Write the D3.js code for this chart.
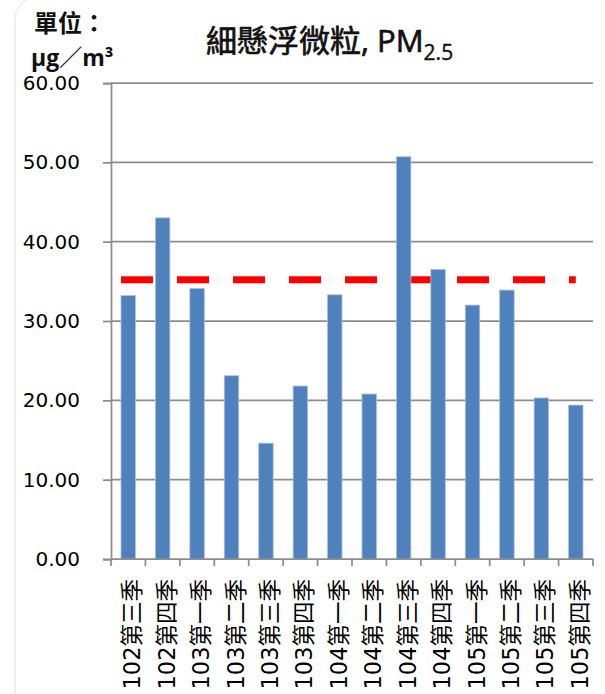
<!DOCTYPE html>
<html>
<head>
<meta charset="utf-8">
<script src="https://cdn.jsdelivr.net/npm/d3@7"></script>
<style>
  html, body { margin: 0; padding: 0; background: #ffffff; }
  svg { display: block; }
</style>
</head>
<body>
<svg id="chart" width="605" height="694"></svg>
<script>
// ---- data ----
const categories = [
  "102第三季", "102第四季", "103第一季", "103第二季", "103第三季", "103第四季",
  "104第一季", "104第二季", "104第三季", "104第四季",
  "105第一季", "105第二季", "105第三季", "105第四季"
];
const pm25Values = [33.2, 43.0, 34.1, 23.1, 14.6, 21.8, 33.3, 20.8, 50.7, 36.5, 32.0, 33.9, 20.3, 19.4];
const standardValue = 35.2;
const yTicks = [0, 10, 20, 30, 40, 50, 60];
const titleMain = "細懸浮微粒, PM";
const titleSub = "2.5";
const unitLine1 = "單位：";
const unitLine2 = "μg／m³";

// ---- layout ----
const svg = d3.select("#chart");
const plot = { left: 111, right: 593, top: 83, bottom: 559 };
const latinFont = "'DejaVu Sans', 'Noto Sans CJK TC', sans-serif";
const cjkFont = "'Open Sans', 'Noto Sans CJK TC', sans-serif";
const gridColor = "#8c8c8c";

const x = d3.scaleBand()
  .domain(categories)
  .range([plot.left, plot.right])
  .paddingInner(0.58)
  .paddingOuter(0.29);

const y = d3.scaleLinear()
  .domain([0, 60])
  .range([plot.bottom, plot.top]);

// frame (faint rounded border on the left)
svg.append("rect")
  .attr("x", 15).attr("y", -4)
  .attr("width", 640).attr("height", 760)
  .attr("rx", 24).attr("ry", 24)
  .attr("fill", "none")
  .attr("stroke", "#ececec")
  .attr("stroke-width", 1.5);

// gridlines
svg.append("g").selectAll("line")
  .data(yTicks.filter(d => d !== 0))
  .join("line")
  .attr("x1", plot.left).attr("x2", plot.right)
  .attr("y1", d => y(d)).attr("y2", d => y(d))
  .attr("stroke", gridColor)
  .attr("stroke-width", 1.75);

// y axis
const yAxis = d3.axisLeft(y)
  .tickValues(yTicks)
  .tickFormat(d3.format(".2f"))
  .tickSize(8)
  .tickPadding(23);
const gy = svg.append("g")
  .attr("transform", `translate(${plot.left},0)`)
  .call(yAxis);
gy.select(".domain").attr("stroke", gridColor).attr("stroke-width", 1.75);
gy.selectAll(".tick line").attr("stroke", gridColor).attr("stroke-width", 1.75);
gy.selectAll(".tick text")
  .attr("fill", "#000")
  .style("font-family", latinFont)
  .style("font-size", "20px");

// reference (standard) dashed line, behind bars
const lineStart = x(categories[0]);
const lineEnd = x(categories[categories.length - 1]) + x.bandwidth() / 2;
svg.append("line")
  .attr("x1", lineStart).attr("x2", lineEnd)
  .attr("y1", y(standardValue)).attr("y2", y(standardValue))
  .attr("stroke", "#ff0000")
  .attr("stroke-width", 7)
  .attr("stroke-dasharray", "32,24");

// bars
svg.append("g").selectAll("rect")
  .data(categories.map((c, i) => ({ c, v: pm25Values[i] })))
  .join("rect")
  .attr("x", d => x(d.c))
  .attr("y", d => y(d.v))
  .attr("width", x.bandwidth())
  .attr("height", d => y(0) - y(d.v))
  .attr("fill", "#4f81bd")
  .attr("stroke", "#a9c0df")
  .attr("stroke-width", 0.8);

// x axis line + ticks at category boundaries
const gx = svg.append("g");
gx.append("line")
  .attr("x1", plot.left).attr("x2", plot.right)
  .attr("y1", y(0)).attr("y2", y(0))
  .attr("stroke", gridColor).attr("stroke-width", 1.75);
const boundaries = d3.range(categories.length + 1).map(i => plot.left + i * x.step());
gx.selectAll("line.tk")
  .data(boundaries)
  .join("line")
  .attr("class", "tk")
  .attr("x1", d => d).attr("x2", d => d)
  .attr("y1", y(0)).attr("y2", y(0) + 7)
  .attr("stroke", gridColor).attr("stroke-width", 1.75);

// x labels (rotated, reading bottom to top)
gx.selectAll("text")
  .data(categories)
  .join("text")
  .attr("transform", d => `translate(${x(d) + x.bandwidth() / 2 + 4},579) rotate(-90)`)
  .attr("text-anchor", "end")
  .attr("dominant-baseline", "central")
  .attr("fill", "#000")
  .style("font-family", latinFont)
  .style("font-size", "22.5px")
  .text(d => d);

// title
const title = svg.append("text")
  .attr("x", 206).attr("y", 52)
  .attr("fill", "#111")
  .attr("stroke", "#111")
  .attr("stroke-width", 0.7)
  .style("font-family", cjkFont)
  .style("font-size", "31px");
title.append("tspan").text(titleMain);
title.append("tspan")
  .attr("dy", 8)
  .attr("stroke-width", 0.4)
  .style("font-size", "21px")
  .text(titleSub);

// unit label
svg.append("text")
  .attr("x", 34).attr("y", 32)
  .attr("fill", "#111")
  .style("font-family", cjkFont)
  .style("font-size", "24px")
  .style("font-weight", "bold")
  .text(unitLine1);
svg.append("text")
  .attr("x", 31).attr("y", 66)
  .attr("fill", "#111")
  .style("font-family", cjkFont)
  .style("font-size", "23px")
  .style("font-weight", "bold")
  .text(unitLine2);
</script>
</body>
</html>
